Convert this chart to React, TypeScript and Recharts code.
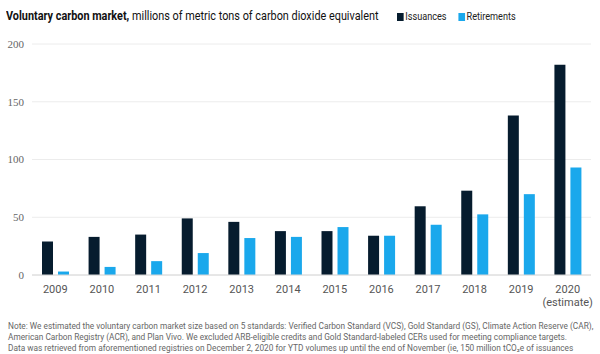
import { BarChart, Bar, XAxis, YAxis, CartesianGrid } from "recharts";

const years = ["2009", "2010", "2011", "2012", "2013", "2014", "2015", "2016", "2017", "2018", "2019", "2020"];
const issuances = [29, 33, 35, 49, 46, 38, 38, 34, 59.5, 73, 138, 182];
const retirements = [3, 7, 12, 19, 32, 33, 41.5, 34, 43.5, 52.5, 70, 93];
const yTicks = [0, 50, 100, 150, 200];

const noteLines = [
  "Note: We estimated the voluntary carbon market size based on 5 standards: Verified Carbon Standard (VCS), Gold Standard (GS), Climate Action Reserve (CAR),",
  "American Carbon Registry (ACR), and Plan Vivo. We excluded ARB-eligible credits and Gold Standard-labeled CERs used for meeting compliance targets.",
  "Data was retrieved from aforementioned registries on December 2, 2020 for YTD volumes up until the end of November (ie, 150 million tCO₂e of issuances",
  "and 81 million tCO₂e of retirements). We projected volumes for full-year 2020 based on extrapolation in line with historical seasonality (ie, 5 years), and did not",
];

const NAVY = "#061c2e";
const BLUE = "#1aa8ec";
const SANS = "Roboto, 'Liberation Sans', sans-serif";

const data = years.map((year, i) => ({ year, issuances: issuances[i], retirements: retirements[i] }));

const YearTick = (props: any) => {
  const { x, y, payload } = props;
  return (
    <g transform={`translate(${x},${y})`}>
      <text x={0} y={0} dy={10} textAnchor="middle" fill="#555" fontSize={11} fontFamily={SANS}>
        {payload.value}
      </text>
      {payload.value === "2020" && (
        <text x={0} y={0} dy={23} textAnchor="middle" fill="#555" fontSize={11} fontFamily={SANS}>
          (estimate)
        </text>
      )}
    </g>
  );
};

const App = () => {
  return (
    <div style={{ position: "absolute", left: 0, top: 0, width: 600, height: 354, background: "#fff", overflow: "hidden" }}>
      <div
        style={{
          position: "absolute",
          left: 6,
          top: 8,
          fontFamily: SANS,
          fontSize: 13,
          color: "#111",
          whiteSpace: "nowrap",
          transform: "scaleX(0.835)",
          transformOrigin: "left top",
        }}
      >
        <b>Voluntary carbon market,</b> millions of metric tons of carbon dioxide equivalent
      </div>
      <div
        style={{
          position: "absolute",
          left: 397,
          top: 10,
          fontFamily: SANS,
          fontSize: 11,
          color: "#222",
          display: "flex",
          alignItems: "center",
          whiteSpace: "nowrap",
          transform: "scaleX(0.83)",
          transformOrigin: "left top",
        }}
      >
        <span style={{ width: 8, height: 8, background: NAVY, display: "inline-block", marginRight: 2 }} />
        <span>Issuances</span>
        <span style={{ width: 8, height: 8, background: BLUE, display: "inline-block", marginLeft: 14, marginRight: 2 }} />
        <span>Retirements</span>
      </div>
      <div style={{ position: "absolute", left: 0, top: 0 }}>
        <BarChart width={600} height={310} data={data} margin={{ top: 44, right: 9, bottom: 5, left: 0 }} barSize={11} barGap={5}>
          <CartesianGrid vertical={false} stroke="#ececec" />
          <XAxis dataKey="year" tick={<YearTick />} tickLine={false} axisLine={{ stroke: "#d8d8d8" }} height={30} interval={0} />
          <YAxis
            domain={[0, 200]}
            ticks={yTicks}
            width={32}
            axisLine={false}
            tickLine={false}
            tickSize={0}
            tickMargin={8}
            tick={{ fill: "#666", fontSize: 11, fontFamily: "'Liberation Serif', 'DejaVu Serif', serif" }}
          />
          <Bar dataKey="issuances" fill={NAVY} isAnimationActive={false} />
          <Bar dataKey="retirements" fill={BLUE} isAnimationActive={false} />
        </BarChart>
      </div>
      <div style={{ position: "absolute", left: 8, top: 321, fontFamily: SANS, fontSize: 8.3, lineHeight: "11px", color: "#666", whiteSpace: "nowrap" }}>
        {noteLines.map((line, i) => (
          <div key={i}>{line}</div>
        ))}
      </div>
    </div>
  );
};

export default App;
